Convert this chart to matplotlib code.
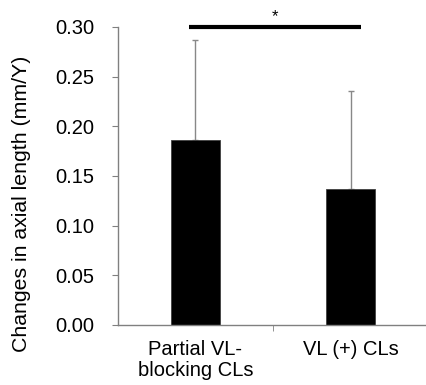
import numpy as np
import matplotlib.pyplot as plt

plt.rcParams['font.family'] = ['Liberation Sans', 'DejaVu Sans']

groups = ["Partial VL-\nblocking CLs", "VL (+) CLs"]
means = [0.186, 0.137]
sds = [0.101, 0.099]
yticks = [0.00, 0.05, 0.10, 0.15, 0.20, 0.25, 0.30]

fig = plt.figure(figsize=(4.27, 3.85), dpi=100)
ax = fig.add_axes([118/427, 60/385, 310/427, 298/385])

x = np.arange(len(groups))
ax.bar(x, means, width=0.31, color="black", edgecolor="#404040", linewidth=0.6, zorder=2)
ax.errorbar(x, means, yerr=[np.zeros(len(sds)), sds], fmt="none",
            ecolor="#888888", elinewidth=1.0, capsize=2, capthick=1.0, zorder=1)

ax.set_xlim(-0.5, 1.5)
ax.set_ylim(0, 0.30)
ax.set_yticks(yticks)
ax.set_yticklabels([f"{v:.2f}" for v in yticks], fontsize=14.5)
ax.set_xticks(x)
ax.set_xticklabels(groups, fontsize=14.5, linespacing=1.1)
ax.tick_params(axis="x", length=0, pad=11)
ax.set_xticks([0.5], minor=True)
ax.tick_params(axis="x", which="minor", length=4.3, color="#808080", direction="out")
ax.tick_params(axis="y", length=4.3, color="#808080", direction="out", pad=13)

for s in ["top", "right"]:
    ax.spines[s].set_visible(False)
for s in ["left", "bottom"]:
    ax.spines[s].set_color("#808080")
    ax.spines[s].set_linewidth(1.0)

ax.set_ylabel("Changes in axial length (mm/Y)", fontsize=15.3, va="center")
ax.yaxis.set_label_coords((22 - 118) / 310, (325 - 203.5) / 298)

# significance bar
ax.plot([-0.04, 1.065], [0.30, 0.30], color="black", lw=3, clip_on=False, solid_capstyle="butt")
ax.text(0.51, 0.303, "*", ha="center", va="bottom", fontsize=12)

fig.savefig("out.png", dpi=100)
